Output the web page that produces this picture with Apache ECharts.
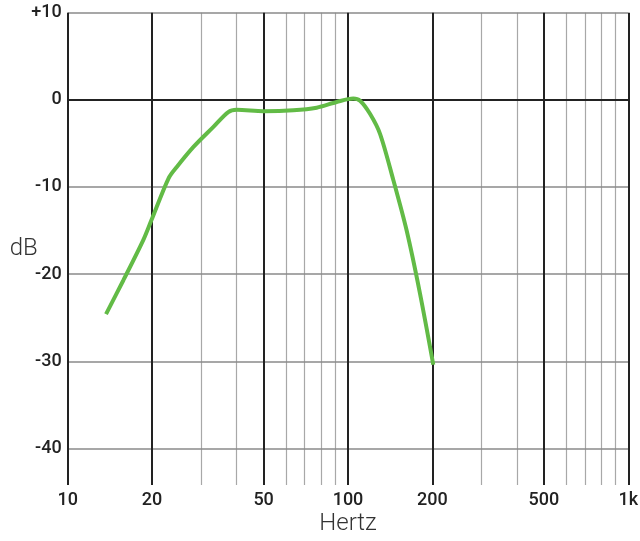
<!DOCTYPE html>
<html>
<head>
<meta charset="utf-8">
<script src="https://cdn.jsdelivr.net/npm/echarts@6/dist/echarts.min.js"></script>
<style>html,body{margin:0;padding:0;background:#fff;}#c{width:640px;height:541px;}</style>
</head>
<body>
<div id="c"></div>
<script>
var freqs = [13.7, 15.8, 18.6, 19.9, 22.9, 24.5, 28.1, 33.1, 37.4, 40.1, 49.9, 63.8, 77.3, 91.1, 104.4, 110.4, 119.8, 130.1, 145.1, 161.9, 180.6, 201.5];
var dBs   = [-24.6, -20.7, -16.1, -13.8, -9.0, -7.7, -5.4, -3.1, -1.4, -1.15, -1.3, -1.2, -0.9, -0.25, 0.15, -0.1, -1.6, -3.9, -9.2, -15.0, -22.2, -30.4];
var xTickLabels = [10, 20, 50, 100, 200, 500, 1000];
var xMinorLines = [30, 40, 60, 70, 80, 90, 300, 400, 600, 700, 800, 900];
var yTickLabels = [-40, -30, -20, -10, 0, 10];

var chart = echarts.init(document.getElementById('c'));
var font = 'Roboto';
var data = freqs.map(function (f, i) { return [f, dBs[i]]; });

var markData = [];
xMinorLines.forEach(function (v) {
  markData.push({ xAxis: v, lineStyle: { color: '#a8a8a8', width: 1.2, type: 'solid' } });
});
yTickLabels.forEach(function (v) {
  markData.push({ yAxis: v, lineStyle: v === 0 ? { color: '#222', width: 2, type: 'solid' } : { color: '#8a8a8a', width: 1.6, type: 'solid' } });
});
xTickLabels.forEach(function (v) {
  markData.push({ xAxis: v, lineStyle: { color: '#222', width: 2, type: 'solid' } });
});

chart.setOption({
  animation: false,
  grid: { left: 67.7, right: 11.7, top: 12.7, bottom: 56, containLabel: false, outerBoundsMode: 'none' },
  xAxis: {
    type: 'log', logBase: 10, min: 10, max: 1000,
    name: 'Hertz', nameLocation: 'middle', nameGap: 27, nameMoveOverlap: false,
    nameTextStyle: { fontFamily: font, fontSize: 24, fontWeight: 300, color: '#333', verticalAlign: 'top' },
    axisLine: { show: false }, axisTick: { show: false }, splitLine: { show: false },
    axisLabel: {
      customValues: xTickLabels,
      fontFamily: font, fontSize: 18, fontWeight: 500, color: '#222', margin: 6,
      formatter: function (v) { return v >= 1000 ? (v / 1000) + 'k' : String(v); }
    }
  },
  yAxis: {
    type: 'value', min: -44.2, max: 10,
    name: 'dB', nameLocation: 'middle', nameRotate: 0, nameGap: 30, nameMoveOverlap: false,
    nameTextStyle: { fontFamily: font, fontSize: 24, fontWeight: 300, color: '#333', align: 'right', padding: [0, 0, 10, 0] },
    axisLine: { show: false }, axisTick: { show: false }, splitLine: { show: false },
    axisLabel: {
      customValues: yTickLabels,
      fontFamily: font, fontSize: 18, fontWeight: 500, color: '#222', margin: 6,
      formatter: function (v) { return v > 0 ? '+' + v : String(v); }
    }
  },
  series: [{
    type: 'line',
    data: data,
    smooth: 0.3,
    showSymbol: false,
    lineStyle: { color: '#62bb46', width: 4 },
    z: 5,
    markLine: {
      silent: true, symbol: 'none', animation: false,
      label: { show: false },
      data: markData,
      z: 1
    }
  }]
});
</script>
</body>
</html>
